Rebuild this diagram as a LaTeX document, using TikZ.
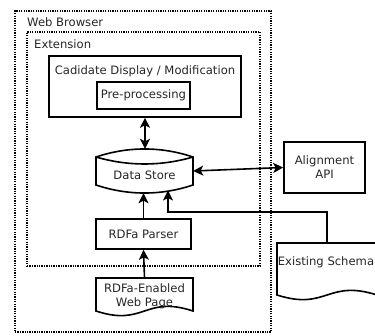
\documentclass[tikz,border=0pt]{standalone}
\usepackage{fontspec}
\setmainfont{DejaVu Sans}
\usetikzlibrary{arrows.meta}
\begin{document}
\begin{tikzpicture}[x=1pt,y=-1pt,
  every node/.style={font=\fontsize{11.6}{14}\selectfont, inner sep=0pt, text=black!85},
  box/.style={draw, line width=1.6pt, rectangle},
  dotbox/.style={draw, line width=1.3pt, dash pattern=on 1.3pt off 1.1pt, rectangle},
  shapeline/.style={line width=1.6pt},
  arr/.style={line width=1.6pt, -{Stealth[length=10pt,width=10pt,inset=2.5pt]}},
  darr/.style={line width=1.6pt, {Stealth[length=10pt,width=10pt,inset=2.5pt]}-{Stealth[length=10pt,width=10pt,inset=2.5pt]}}]
\useasboundingbox (0,0) rectangle (375,335);

% containers
\node[dotbox, minimum width=256pt, minimum height=321pt] (browser) at (143,171.5) {};
\node[anchor=west] (browserlbl) at (27,22) {Web Browser};
\node[dotbox, minimum width=233pt, minimum height=234pt] (ext) at (143.5,149) {};
\node[anchor=west] (extlbl) at (34,44) {Extension};

% candidate display
\node[box, minimum width=192pt, minimum height=61pt] (cand) at (145,86.5) {};
\node (candlbl) at (145,71) {Cadidate Display / Modification};
\node[box, minimum width=93pt, minimum height=27pt] (pre) at (143.5,95.5) {Pre-processing};

% data store
\draw[shapeline] (96,157) .. controls (128,146.3) and (161,146.3) .. (193,157)
  -- (193,185) .. controls (161,195.7) and (128,195.7) .. (96,185) -- cycle;
\draw[shapeline] (96,157) .. controls (128,166.3) and (161,166.3) .. (193,157);
\node[minimum width=97pt, minimum height=44pt] (ds) at (144.5,171) {};
\node (dslbl) at (144.5,175) {Data Store};

% alignment api
\node[box, minimum width=81pt, minimum height=51pt, align=center] (api) at (324.5,167.5) {Alignment\\API};

% parser
\node[box, minimum width=95pt, minimum height=30pt] (parser) at (143.5,234) {RDFa Parser};

% web page document
\draw[shapeline] (96,278) -- (193,278) -- (193,311) .. controls (144.5,295) and (144.5,327) .. (96,311) -- cycle;
\node[minimum width=97pt, minimum height=33pt] (page) at (144.5,294.5) {};
\node[align=center] (pagelbl) at (144.5,296) {RDFa-Enabled\\Web Page};

% existing schema document
\draw[shapeline] (277,243) -- (377,243) -- (377,295) .. controls (327,279) and (327,311) .. (277,295) -- cycle;
\node[minimum width=100pt, minimum height=52pt] (schema) at (327,269) {};
\node (schemalbl) at (326,262) {Existing Schema};

% connectors
\coordinate (dsin) at (168,190.5);
\draw[darr] (cand.south) -- (cand.south |- ds.north);
\draw[darr] (ds.east) -- (api.west);
\draw[arr] (parser.north) -- (parser.north |- ds.south);
\draw[arr] (page.north) -- (parser.south);
\draw[arr] (schema.north) -- ++(0,-31) -| (dsin);
\end{tikzpicture}
\end{document}
